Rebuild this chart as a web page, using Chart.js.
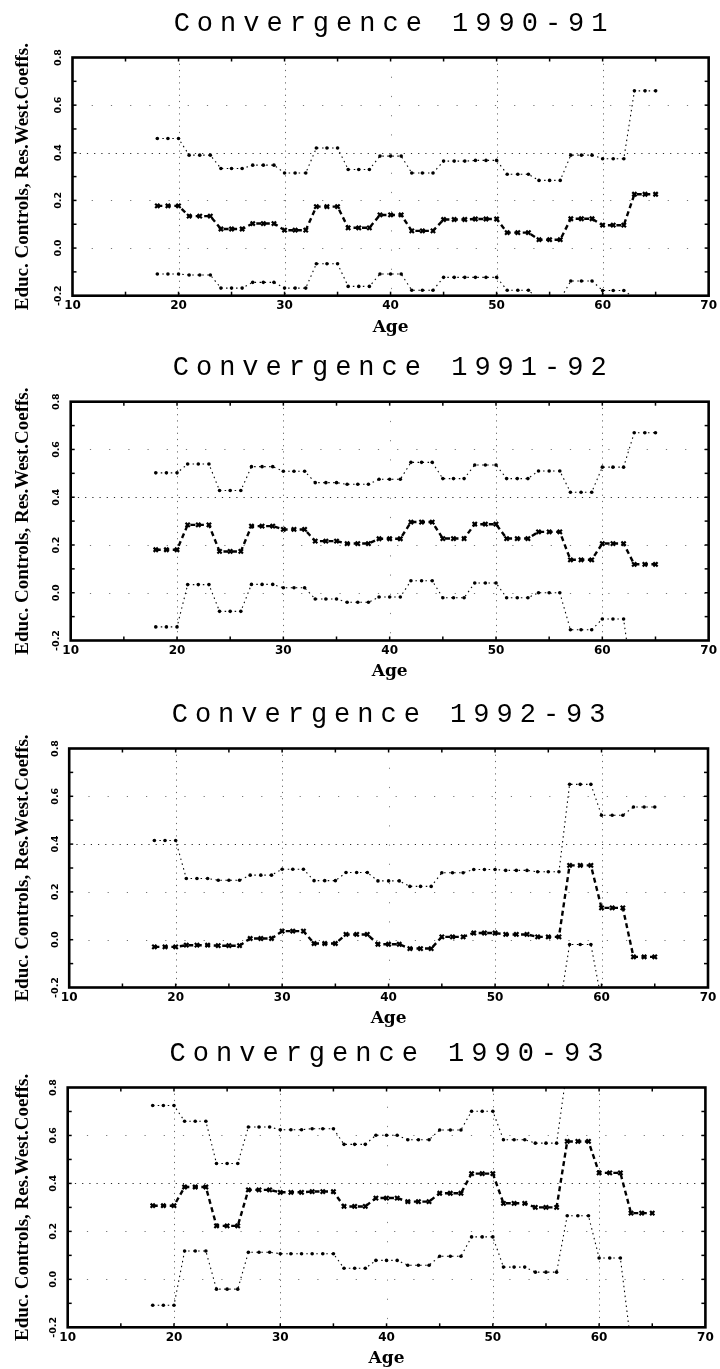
<!DOCTYPE html>
<html>
<head>
<meta charset="utf-8">
<script src="https://cdn.jsdelivr.net/npm/chart.js@4.4.0/dist/chart.umd.min.js"></script>
<style>
html,body{margin:0;padding:0;background:#fff;width:720px;height:1369px;overflow:hidden;}
.panel{position:absolute;left:0;width:720px;height:343px;}
canvas{display:block;}
</style>
</head>
<body>
<script>
// ---------------- DATA ----------------
const ages = [18,19,20,21,22,23,24,25,26,27,28,29,30,31,32,33,34,35,36,37,38,39,40,41,
              42,43,44,45,46,47,48,49,50,51,52,53,54,55,56,57,58,59,60,61,62,63,64,65];

const xTickValues = [10,20,30,40,50,60,70];
const xTickLabels = ['10','20','30','40','50','60','70'];
const yTickValues = [-0.2,0.0,0.2,0.4,0.6,0.8];
const yTickLabels = ['-0.2','0.0','0.2','0.4','0.6','0.8'];

const panelTitles = ['Convergence 1990-91','Convergence 1991-92','Convergence 1992-93','Convergence 1990-93'];
const yAxisTitle = 'Educ. Controls, Res.West.Coeffs.';
const xAxisTitle = 'Age';

// Convergence 1990-91
const upper9091 = [0.46,0.46,0.46,0.39,0.39,0.39,0.334,0.334,0.334,0.348,0.348,0.348,0.315,0.315,0.315,0.42,0.42,0.42,0.33,0.33,0.33,0.386,0.386,0.386,
                   0.315,0.315,0.315,0.365,0.365,0.365,0.368,0.368,0.368,0.31,0.31,0.31,0.284,0.284,0.284,0.39,0.39,0.39,0.375,0.375,0.375,0.66,0.66,0.66];
const coef9091  = [0.177,0.177,0.177,0.134,0.134,0.134,0.08,0.08,0.08,0.103,0.103,0.103,0.075,0.075,0.075,0.174,0.174,0.174,0.085,0.085,0.085,0.139,0.139,0.139,
                   0.072,0.072,0.072,0.12,0.12,0.12,0.122,0.122,0.122,0.065,0.065,0.065,0.035,0.035,0.035,0.123,0.123,0.123,0.096,0.096,0.096,0.226,0.226,0.226];
const lower9091 = [-0.109,-0.109,-0.109,-0.113,-0.113,-0.113,-0.168,-0.168,-0.168,-0.144,-0.144,-0.144,-0.168,-0.168,-0.168,-0.066,-0.066,-0.066,-0.161,-0.161,-0.161,-0.109,-0.109,-0.109,
                   -0.177,-0.177,-0.177,-0.123,-0.123,-0.123,-0.123,-0.123,-0.123,-0.177,-0.177,-0.177,-0.215,-0.215,-0.215,-0.138,-0.138,-0.138,-0.178,-0.178,-0.178,-0.21,-0.21,-0.21];

// Convergence 1991-92
const upper9192 = [0.502,0.502,0.502,0.539,0.539,0.539,0.428,0.428,0.428,0.528,0.528,0.528,0.509,0.509,0.509,0.461,0.461,0.461,0.454,0.454,0.454,0.475,0.475,0.475,
                   0.546,0.546,0.546,0.478,0.478,0.478,0.535,0.535,0.535,0.478,0.478,0.478,0.51,0.51,0.51,0.421,0.421,0.421,0.526,0.526,0.526,0.67,0.67,0.67];
const coef9192  = [0.18,0.18,0.18,0.284,0.284,0.284,0.173,0.173,0.173,0.279,0.279,0.279,0.265,0.265,0.265,0.216,0.216,0.216,0.206,0.206,0.206,0.226,0.226,0.226,
                   0.296,0.296,0.296,0.227,0.227,0.227,0.287,0.287,0.287,0.227,0.227,0.227,0.255,0.255,0.255,0.138,0.138,0.138,0.206,0.206,0.206,0.119,0.119,0.119];
const lower9192 = [-0.143,-0.143,-0.143,0.034,0.034,0.034,-0.078,-0.078,-0.078,0.035,0.035,0.035,0.021,0.021,0.021,-0.026,-0.026,-0.026,-0.04,-0.04,-0.04,-0.018,-0.018,-0.018,
                   0.05,0.05,0.05,-0.021,-0.021,-0.021,0.041,0.041,0.041,-0.021,-0.021,-0.021,0.0,0.0,0.0,-0.155,-0.155,-0.155,-0.11,-0.11,-0.11,-0.43,-0.43,-0.43];

// Convergence 1992-93
const upper9293 = [0.415,0.415,0.415,0.256,0.256,0.256,0.249,0.249,0.249,0.27,0.27,0.27,0.295,0.295,0.295,0.247,0.247,0.247,0.281,0.281,0.281,0.246,0.246,0.246,
                   0.223,0.223,0.223,0.28,0.28,0.28,0.294,0.294,0.294,0.29,0.29,0.29,0.284,0.284,0.284,0.65,0.65,0.65,0.521,0.521,0.521,0.555,0.555,0.555];
const coef9293  = [-0.03,-0.03,-0.03,-0.023,-0.023,-0.023,-0.025,-0.025,-0.025,0.005,0.005,0.005,0.036,0.036,0.036,-0.016,-0.016,-0.016,0.022,0.022,0.022,-0.019,-0.019,-0.019,
                   -0.037,-0.037,-0.037,0.012,0.012,0.012,0.028,0.028,0.028,0.022,0.022,0.022,0.012,0.012,0.012,0.311,0.311,0.311,0.133,0.133,0.133,-0.072,-0.072,-0.072];
const lower9293 = [-0.475,-0.475,-0.475,-0.302,-0.302,-0.302,-0.299,-0.299,-0.299,-0.26,-0.26,-0.26,-0.223,-0.223,-0.223,-0.279,-0.279,-0.279,-0.237,-0.237,-0.237,-0.284,-0.284,-0.284,
                   -0.297,-0.297,-0.297,-0.256,-0.256,-0.256,-0.238,-0.238,-0.238,-0.246,-0.246,-0.246,-0.30,-0.30,-0.30,-0.02,-0.02,-0.02,-0.255,-0.255,-0.255,-0.699,-0.699,-0.699];

// Convergence 1990-93
const upper9093 = [0.725,0.725,0.725,0.659,0.659,0.659,0.483,0.483,0.483,0.635,0.635,0.635,0.624,0.624,0.624,0.628,0.628,0.628,0.563,0.563,0.563,0.601,0.601,0.601,
                   0.582,0.582,0.582,0.623,0.623,0.623,0.701,0.701,0.701,0.582,0.582,0.582,0.568,0.568,0.568,0.885,0.885,0.885,0.81,0.81,0.81,0.82,0.82,0.82];
const coef9093  = [0.307,0.307,0.307,0.385,0.385,0.385,0.223,0.223,0.223,0.373,0.373,0.373,0.363,0.363,0.363,0.366,0.366,0.366,0.304,0.304,0.304,0.339,0.339,0.339,
                   0.324,0.324,0.324,0.359,0.359,0.359,0.441,0.441,0.441,0.317,0.317,0.317,0.3,0.3,0.3,0.575,0.575,0.575,0.444,0.444,0.444,0.276,0.276,0.276];
const lower9093 = [-0.108,-0.108,-0.108,0.118,0.118,0.118,-0.041,-0.041,-0.041,0.113,0.113,0.113,0.107,0.107,0.107,0.107,0.107,0.107,0.046,0.046,0.046,0.079,0.079,0.079,
                   0.059,0.059,0.059,0.096,0.096,0.096,0.177,0.177,0.177,0.051,0.051,0.051,0.03,0.03,0.03,0.265,0.265,0.265,0.089,0.089,0.089,-0.27,-0.27,-0.27];

const panelSeries = [
  [upper9091, coef9091, lower9091],
  [upper9192, coef9192, lower9192],
  [upper9293, coef9293, lower9293],
  [upper9093, coef9093, lower9093]
];

// ---------------- LAYOUT ----------------
const CANVAS_H = 343;
const frames = [
  {top: 0,    plotTop: 57.5, left: 72.5, right: 710.0, h: 238.2},
  {top: 344,  plotTop: 57.7, left: 70.7, right: 708.7, h: 238.8},
  {top: 691,  plotTop: 57.5, left: 69.2, right: 708.0, h: 239.0},
  {top: 1030, plotTop: 57.5, left: 67.7, right: 705.4, h: 239.8}
];

// ---------------- PLUGINS ----------------
const spacedTitle = {
  id: 'spacedTitle',
  afterDraw(chart, args, opts) {
    const ctx = chart.ctx, a = chart.chartArea;
    ctx.save();
    ctx.font = '27px "Liberation Mono", "DejaVu Sans Mono", monospace';
    const ls = 7;
    try { ctx.letterSpacing = ls + 'px'; } catch (e) {}
    ctx.fillStyle = '#000';
    ctx.textAlign = 'left';
    ctx.textBaseline = 'alphabetic';
    const w = ctx.measureText(opts.text).width - ls;
    ctx.fillText(opts.text, (a.left + a.right) / 2 - w / 2, a.top - 27);
    ctx.restore();
  }
};

function seg(ctx, x1, y1, x2, y2) {
  ctx.beginPath(); ctx.moveTo(x1, y1); ctx.lineTo(x2, y2); ctx.stroke();
}

const panelFrame = {
  id: 'panelFrame',
  beforeDatasetsDraw(chart) {
    const {ctx, chartArea: a, scales: {x, y}} = chart;
    ctx.save();
    ctx.strokeStyle = '#000';
    ctx.lineWidth = 1;
    yTickValues.forEach(v => {
      if (v <= y.min || v >= y.max) return;
      const py = Math.round(y.getPixelForValue(v)) + 0.5;
      const strong = Math.abs(v - 0.4) < 1e-9;
      ctx.setLineDash(strong ? [1.2, 6] : [1.2, 18]);
      ctx.globalAlpha = strong ? 0.85 : 0.55;
      seg(ctx, a.left, py, a.right, py);
    });
    xTickValues.forEach(v => {
      if (v <= x.min || v >= x.max) return;
      const px = Math.round(x.getPixelForValue(v)) + 0.5;
      const faint = v === 40;
      ctx.setLineDash(faint ? [1.2, 18] : [1.2, 5]);
      ctx.globalAlpha = faint ? 0.5 : 0.6;
      seg(ctx, px, a.top, px, a.bottom);
    });
    ctx.restore();
  },
  afterDatasetsDraw(chart) {
    const {ctx, chartArea: a, scales: {x, y}} = chart;
    ctx.save();
    ctx.strokeStyle = '#000';
    ctx.setLineDash([]);
    ctx.lineWidth = 1.5;
    for (let k = 1; k < 10; k++) {
      const py = y.getPixelForValue(y.min + k * 0.1);
      seg(ctx, a.left, py, a.left + 4, py);
      seg(ctx, a.right, py, a.right - 4, py);
    }
    for (let k = 1; k < 12; k++) {
      const px = x.getPixelForValue(x.min + k * 5);
      seg(ctx, px, a.top, px, a.top + 4);
      seg(ctx, px, a.bottom, px, a.bottom - 4);
    }
    ctx.lineWidth = 2.6;
    ctx.strokeRect(a.left, a.top, a.right - a.left, a.bottom - a.top);
    ctx.restore();
  }
};

// ---------------- CHARTS ----------------
function toPoints(vals) {
  return ages.map((a, i) => ({x: a, y: vals[i]}));
}

function makePanel(i) {
  const f = frames[i];
  const div = document.createElement('div');
  div.className = 'panel';
  div.style.top = f.top + 'px';
  const cv = document.createElement('canvas');
  cv.width = 720; cv.height = CANVAS_H;
  cv.style.width = '720px'; cv.style.height = CANVAS_H + 'px';
  div.appendChild(cv);
  document.body.appendChild(div);

  const bottom = f.plotTop + f.h;
  const ageCenter = bottom + 31.5;
  const xTitleLine = 17 * 1.2;
  const xTitlePadBottom = Math.max(0, CANVAS_H - ageCenter - xTitleLine / 2);
  const [up, co, lo] = panelSeries[i];

  const bandStyle = {
    borderColor: '#000', borderWidth: 1.1, borderDash: [1.5, 3.5],
    pointStyle: 'circle', pointRadius: 1.8, pointBackgroundColor: '#000',
    pointBorderColor: '#000', pointBorderWidth: 0, pointHoverRadius: 1.8,
    tension: 0, fill: false, clip: 0
  };

  new Chart(cv.getContext('2d'), {
    type: 'line',
    data: {
      datasets: [
        Object.assign({label: 'Upper bound', data: toPoints(up)}, bandStyle),
        {
          label: 'Coefficient', data: toPoints(co),
          borderColor: '#000', borderWidth: 2.4, borderDash: [5, 3.5],
          pointStyle: 'crossRot', pointRadius: 3, pointBorderWidth: 2.2,
          pointBorderColor: '#000', pointBackgroundColor: '#000', pointHoverRadius: 3,
          tension: 0, fill: false, clip: 0
        },
        Object.assign({label: 'Lower bound', data: toPoints(lo)}, bandStyle)
      ]
    },
    options: {
      responsive: false,
      animation: false,
      events: [],
      layout: {padding: {top: f.plotTop, right: 720 - f.right, left: 0, bottom: 0}},
      plugins: {
        legend: {display: false},
        tooltip: {enabled: false},
        title: {display: false},
        spacedTitle: {text: panelTitles[i]}
      },
      scales: {
        x: {
          type: 'linear', min: 10, max: 70,
          afterBuildTicks: s => { s.ticks = xTickValues.map(v => ({value: v})); },
          afterFit: s => { s.height = CANVAS_H - bottom; },
          grid: {display: false, drawTicks: false},
          border: {display: false},
          ticks: {
            autoSkip: false, maxRotation: 0, minRotation: 0, padding: 3,
            color: '#000',
            font: {family: '"DejaVu Sans", sans-serif', weight: 'bold', size: 12},
            callback: (v, idx) => xTickLabels[idx]
          },
          title: {
            display: true, text: xAxisTitle, color: '#000',
            font: {family: '"DejaVu Serif", serif', weight: 'bold', size: 17},
            padding: {top: 0, bottom: xTitlePadBottom}
          }
        },
        y: {
          type: 'linear', min: -0.2, max: 0.8,
          afterBuildTicks: s => { s.ticks = yTickValues.map(v => ({value: v})); },
          afterFit: s => { s.width = f.left; },
          grid: {display: false, drawTicks: false},
          border: {display: false},
          ticks: {
            autoSkip: false, minRotation: 90, maxRotation: 90,
            crossAlign: 'center', padding: 3.5, color: '#000',
            font: {family: '"DejaVu Sans", sans-serif', weight: 'bold', size: 9.5},
            callback: (v, idx) => yTickLabels[idx]
          },
          title: {
            display: true, text: yAxisTitle, color: '#000',
            font: {family: '"Liberation Serif", serif', weight: 'bold', size: 19},
            padding: {top: 12, bottom: 0}
          }
        }
      }
    },
    plugins: [panelFrame, spacedTitle]
  });
}

for (let i = 0; i < 4; i++) makePanel(i);
</script>
</body>
</html>
